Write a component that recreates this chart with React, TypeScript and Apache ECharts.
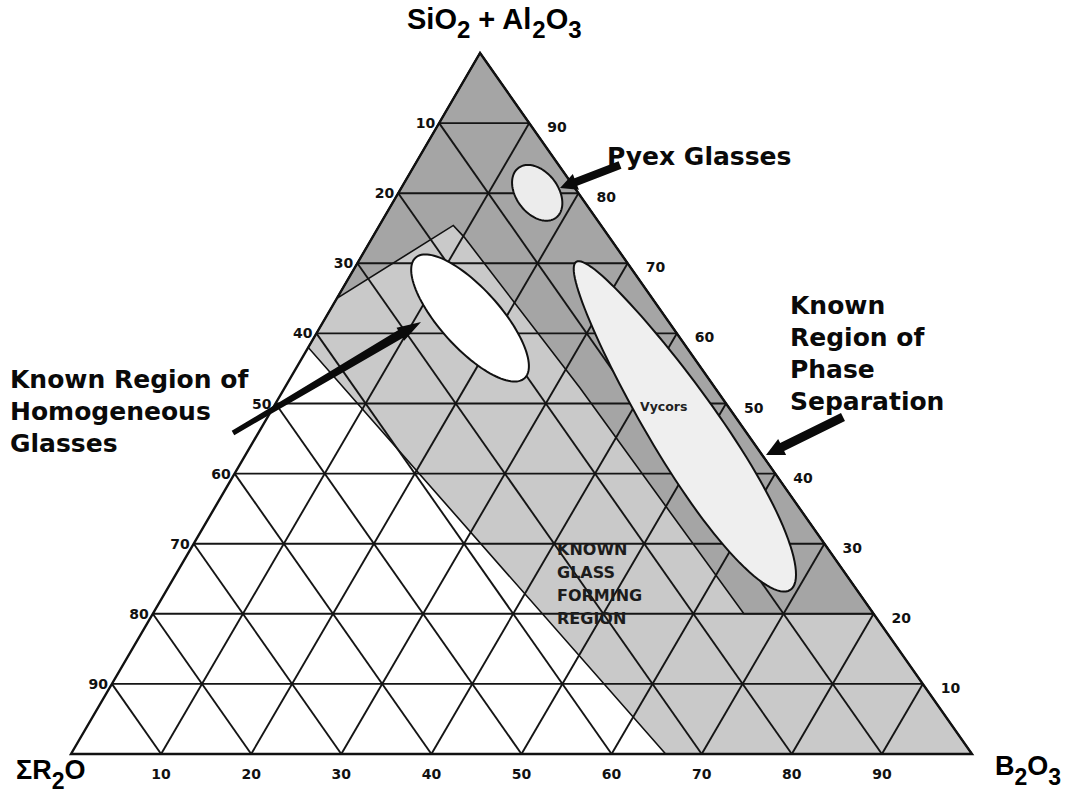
import React, { useEffect, useRef } from "react";
import * as echarts from "echarts";

// ---------- data ----------
// Ternary compositions are written as [SiO2 + Al2O3, B2O3]; ΣR2O = 100 - both.
const TICK_VALUES = [10, 20, 30, 40, 50, 60, 70, 80, 90];
const APEX_SKEW = 0.454; // apex sits at 45.4 % of the base (the printed triangle is skewed)

const GLASS_FORMING_REGION = [[0, 66], [0, 100], [100, 0], [58, 0]];
const PHASE_SEPARATION_REGION = [
  [100, 0], [65, 0], [75.4, 8.2], [73.7, 10.2], [52.2, 32.8], [20, 65.6], [20, 80],
];
const REGIONS = [GLASS_FORMING_REGION, PHASE_SEPARATION_REGION];
const REGION_FILLS = ["#c9c9c9", "#a5a5a5"];

const ELLIPSE_NAMES = ["Pyrex", "Homogeneous", "Vycor"];
const ELLIPSE_START = [[83.6, 11.7], [70.8, 6.1], [70.2, 24.2]];
const ELLIPSE_END = [[76.5, 19.1], [53.6, 26.0], [23.4, 69.2]];
const ELLIPSE_RATIO = [0.67, 0.37, 0.18];
const ELLIPSE_TAPER = [0, 0, 0.22];
const ELLIPSE_FILL = ["#ececec", "#ffffff", "#efefef"];

// ---------- helpers ----------
const toXY = (p: number[]) => [p[1] + APEX_SKEW * p[0], p[0]];

const GRID_SEGMENTS: number[][][] = [];
TICK_VALUES.forEach((v) => {
  GRID_SEGMENTS.push([[v, 0], [v, 100 - v]]); // constant SiO2
  GRID_SEGMENTS.push([[0, v], [100 - v, v]]); // constant B2O3
  GRID_SEGMENTS.push([[0, 100 - v], [100 - v, 0]]); // constant R2O
});
const TRIANGLE = [[0, 0], [0, 100], [100, 0]];

type LabelSpec = { side: string; v: number };
const LABEL_SPECS: LabelSpec[] = [
  ...TICK_VALUES.map((v) => ({ side: "left", v })),
  ...TICK_VALUES.map((v) => ({ side: "right", v })),
  ...TICK_VALUES.map((v) => ({ side: "bottom", v })),
];

function arrowPoints(tail: number[], tip: number[], tailW: number, shaftW: number, headW: number, headL: number) {
  const dx = tip[0] - tail[0];
  const dy = tip[1] - tail[1];
  const len = Math.hypot(dx, dy);
  const ux = dx / len, uy = dy / len;
  const nx = -uy, ny = ux;
  const bx = tip[0] - ux * headL, by = tip[1] - uy * headL;
  return [
    [tail[0] + (nx * tailW) / 2, tail[1] + (ny * tailW) / 2],
    [bx + (nx * shaftW) / 2, by + (ny * shaftW) / 2],
    [bx + (nx * headW) / 2, by + (ny * headW) / 2],
    [tip[0], tip[1]],
    [bx - (nx * headW) / 2, by - (ny * headW) / 2],
    [bx - (nx * shaftW) / 2, by - (ny * shaftW) / 2],
    [tail[0] - (nx * tailW) / 2, tail[1] - (ny * tailW) / 2],
  ];
}

const FONT_BOLD = '"DejaVu Sans", "Liberation Sans", Arial, sans-serif';
const FONT_SANS = '"Liberation Sans", Arial, sans-serif';

function formulaRich(size: number, subSize: number) {
  return {
    m: { fontSize: size, fontFamily: FONT_SANS, fontWeight: "bold", color: "#111", lineHeight: 28, verticalAlign: "top" },
    s: { fontSize: subSize, fontFamily: FONT_SANS, fontWeight: "bold", color: "#111", lineHeight: 50, verticalAlign: "middle" },
  };
}

function buildOption() {
  const regionSeries = {
    type: "custom",
    coordinateSystem: "cartesian2d",
    silent: true,
    clip: false,
    z: 1,
    data: REGIONS.map(() => [50, 50]),
    renderItem: (params: any, api: any) => {
      const i = params.dataIndex;
      const pts = REGIONS[i].map((p) => api.coord(toXY(p)));
      return {
        type: "polygon",
        shape: { points: pts },
        style: { fill: REGION_FILLS[i], stroke: "#111", lineWidth: 1.6 },
      };
    },
  };

  const gridSeries = {
    type: "custom",
    coordinateSystem: "cartesian2d",
    silent: true,
    clip: false,
    z: 2,
    data: GRID_SEGMENTS.map(() => [50, 50]),
    renderItem: (params: any, api: any) => {
      const seg = GRID_SEGMENTS[params.dataIndex];
      const a = api.coord(toXY(seg[0]));
      const b = api.coord(toXY(seg[1]));
      return {
        type: "line",
        shape: { x1: a[0], y1: a[1], x2: b[0], y2: b[1] },
        style: { stroke: "#151515", lineWidth: 1.9 },
      };
    },
  };

  const ellipseSeries = {
    type: "custom",
    coordinateSystem: "cartesian2d",
    silent: true,
    clip: false,
    z: 3,
    data: ELLIPSE_NAMES.map(() => [50, 50]),
    renderItem: (params: any, api: any) => {
      const i = params.dataIndex;
      const p1 = api.coord(toXY(ELLIPSE_START[i]));
      const p2 = api.coord(toXY(ELLIPSE_END[i]));
      const cx = (p1[0] + p2[0]) / 2, cy = (p1[1] + p2[1]) / 2;
      const dx = p2[0] - p1[0], dy = p2[1] - p1[1];
      const len = Math.hypot(dx, dy);
      const ux = dx / len, uy = dy / len;
      const rx = len / 2, ry = rx * ELLIPSE_RATIO[i];
      const pts: number[][] = [];
      for (let k = 0; k < 120; k++) {
        const t = (k / 120) * Math.PI * 2;
        const c = Math.cos(t) * rx;
        const s = Math.sin(t) * ry * (1 + ELLIPSE_TAPER[i] * Math.cos(t));
        pts.push([cx + c * ux - s * uy, cy + c * uy + s * ux]);
      }
      return {
        type: "polygon",
        shape: { points: pts },
        style: { fill: ELLIPSE_FILL[i], stroke: "#111", lineWidth: 2 },
      };
    },
  };

  const outlineSeries = {
    type: "custom",
    coordinateSystem: "cartesian2d",
    silent: true,
    clip: false,
    z: 4,
    data: [[50, 50]],
    renderItem: (params: any, api: any) => ({
      type: "polygon",
      shape: { points: TRIANGLE.map((p) => api.coord(toXY(p))) },
      style: { fill: "none", stroke: "#111", lineWidth: 2.4 },
    }),
  };

  const labelSeries = {
    type: "custom",
    coordinateSystem: "cartesian2d",
    silent: true,
    clip: false,
    z: 5,
    data: LABEL_SPECS.map(() => [50, 50]),
    renderItem: (params: any, api: any) => {
      const s = LABEL_SPECS[params.dataIndex];
      let p: number[];
      let dx = 0, dy = 0, align = "center";
      if (s.side === "left") {
        p = api.coord(toXY([100 - s.v, 0]));
        dx = -4; dy = 0; align = "right";
      } else if (s.side === "right") {
        p = api.coord(toXY([s.v, 100 - s.v]));
        dx = 18; dy = 4; align = "left";
      } else {
        p = api.coord(toXY([0, s.v]));
        dx = 0; dy = 20; align = "center";
      }
      return {
        type: "text",
        x: p[0] + dx,
        y: p[1] + dy,
        style: {
          text: String(s.v),
          fill: "#111",
          font: `bold 14px ${FONT_BOLD}`,
          textAlign: align,
          textVerticalAlign: "middle",
          align,
          verticalAlign: "middle",
        },
      };
    },
  };

  const annFont = `bold 25px ${FONT_BOLD}`;
  const graphic: any[] = [
    {
      type: "text", left: 407, top: 4, z: 10,
      style: { text: "{m|SiO}{s|2}{m| + Al}{s|2}{m|O}{s|3}", rich: formulaRich(29, 24) },
    },
    {
      type: "text", left: 16, top: 756, z: 10,
      style: { text: "{m|ΣR}{s|2}{m|O}", rich: formulaRich(27, 23) },
    },
    {
      type: "text", left: 995, top: 752, z: 10,
      style: { text: "{m|B}{s|2}{m|O}{s|3}", rich: formulaRich(27, 23) },
    },
    {
      type: "text", x: 607, y: 156, z: 10,
      style: { text: "Pyex Glasses", font: annFont, fill: "#0a0a0a", textAlign: "left", textVerticalAlign: "middle", align: "left", verticalAlign: "middle" },
    },
    {
      type: "text", x: 10, y: 363, z: 10,
      style: { text: "Known Region of\nHomogeneous\nGlasses", font: annFont, lineHeight: 32, fill: "#0a0a0a", textAlign: "left", textVerticalAlign: "top", align: "left", verticalAlign: "top" },
    },
    {
      type: "text", x: 790, y: 289, z: 10,
      style: { text: "Known\nRegion of\nPhase\nSeparation", font: annFont, lineHeight: 32, fill: "#0a0a0a", textAlign: "left", textVerticalAlign: "top", align: "left", verticalAlign: "top" },
    },
    {
      type: "text", x: 557, y: 538, z: 10,
      style: { text: "KNOWN\nGLASS\nFORMING\nREGION", font: `bold 16px ${FONT_BOLD}`, lineHeight: 23, fill: "#1c1c1c", textAlign: "left", textVerticalAlign: "top", align: "left", verticalAlign: "top" },
    },
    {
      type: "text", x: 640, y: 406, z: 10,
      style: { text: "Vycors", font: `bold 12.5px ${FONT_BOLD}`, fill: "#222", textAlign: "left", textVerticalAlign: "middle", align: "left", verticalAlign: "middle" },
    },
    {
      type: "polygon", z: 10,
      shape: { points: arrowPoints([620, 165], [560, 188], 8, 8, 17, 17) },
      style: { fill: "#0a0a0a" },
    },
    {
      type: "polygon", z: 10,
      shape: { points: arrowPoints([233, 433], [421, 322], 5, 9, 15, 24) },
      style: { fill: "#0a0a0a" },
    },
    {
      type: "polygon", z: 10,
      shape: { points: arrowPoints([843, 417], [766, 455], 9, 9, 18, 18) },
      style: { fill: "#0a0a0a" },
    },
  ];

  return {
    animation: false,
    backgroundColor: "#ffffff",
    grid: { left: 71, right: 112, top: 53, bottom: 39 },
    xAxis: { type: "value", min: 0, max: 100, show: false },
    yAxis: { type: "value", min: 0, max: 100, show: false },
    series: [regionSeries, gridSeries, ellipseSeries, outlineSeries, labelSeries],
    graphic,
  };
}

export default function App() {
  const ref = useRef<HTMLDivElement>(null);
  useEffect(() => {
    if (!ref.current) return;
    const chart = echarts.init(ref.current, undefined, { renderer: "svg" });
    chart.setOption(buildOption() as any);
    return () => chart.dispose();
  }, []);
  return (
    <div
      ref={ref}
      style={{ position: "fixed", left: 0, top: 0, width: 1084, height: 793, background: "#fff" }}
    />
  );
}
